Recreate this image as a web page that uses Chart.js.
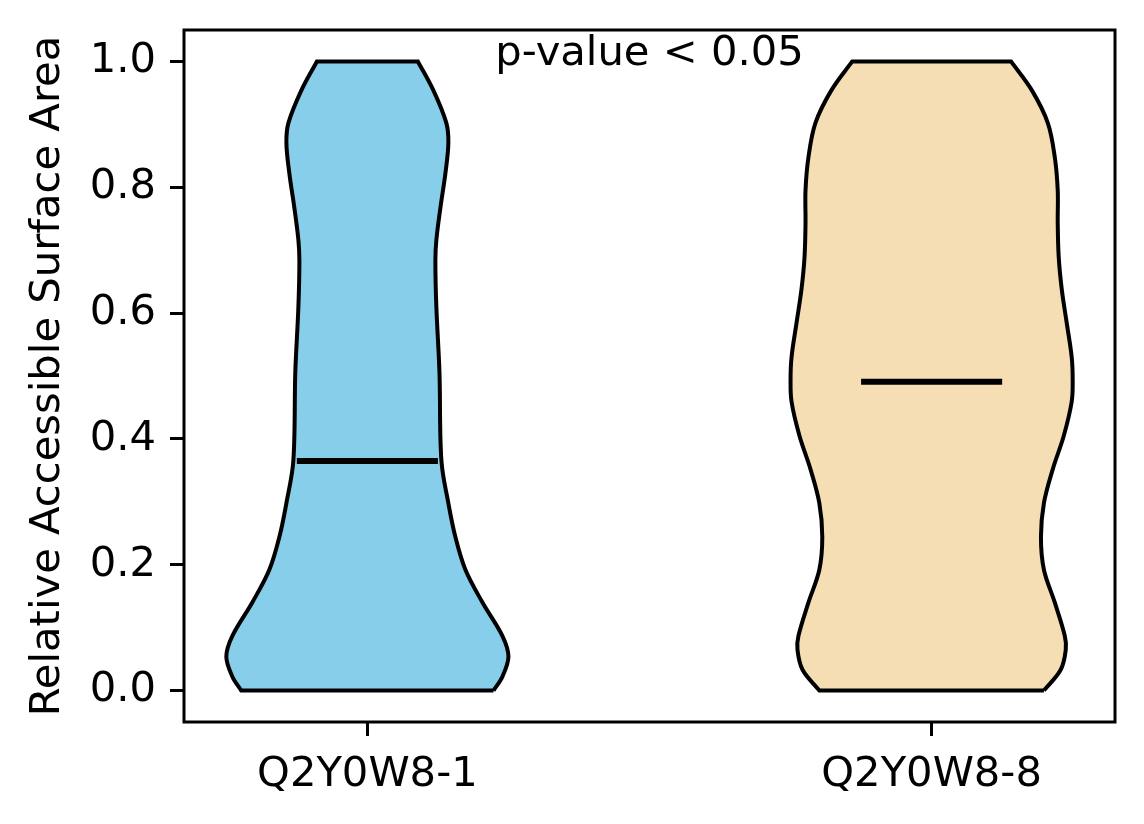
<!DOCTYPE html>
<html>
<head>
<meta charset="utf-8">
<script src="https://cdn.jsdelivr.net/npm/chart.js@4.4.1/dist/chart.umd.min.js"></script>
<style>
  html, body { margin: 0; padding: 0; background: #fff; }
  canvas { display: block; }
</style>
</head>
<body>
<canvas id="violinChart" width="1144" height="824"></canvas>
<script>
// Categories and violin positions
const categories = ["Q2Y0W8-1", "Q2Y0W8-8"];
const positions = [1, 2];
const colors = ["#87CEEB", "#F5DEB3"];

// Violin profiles: levels (y) and relative half-width (1 = widest)
const levels1 = [0.0, 0.022, 0.054, 0.087, 0.140, 0.192, 0.244, 0.298, 0.365, 0.506, 0.610, 0.684, 0.716, 0.768, 0.822, 0.870, 0.902, 0.954, 1.0];
const widths1 = [0.894, 0.957, 1.0, 0.957, 0.816, 0.695, 0.624, 0.574, 0.525, 0.511, 0.489, 0.482, 0.489, 0.518, 0.553, 0.574, 0.560, 0.468, 0.358];

const levels2 = [0.0, 0.033, 0.065, 0.087, 0.140, 0.192, 0.244, 0.298, 0.352, 0.405, 0.459, 0.494, 0.530, 0.584, 0.637, 0.689, 0.743, 0.795, 0.848, 0.902, 0.954, 1.0];
const widths2 = [0.796, 0.915, 0.951, 0.944, 0.873, 0.796, 0.775, 0.796, 0.859, 0.937, 0.993, 1.0, 0.993, 0.958, 0.923, 0.901, 0.894, 0.894, 0.873, 0.824, 0.711, 0.563];

const medians = [0.365, 0.491];
const yTicks = [0.0, 0.2, 0.4, 0.6, 0.8, 1.0];
const annotation = "p-value < 0.05";

const violinWidth = 0.5;
const fontPx = 41.7;

// closed outline: right side upward, then left side downward (corners doubled to keep them sharp)
function violinPoints(pos, levels, widths) {
  const half = violinWidth / 2;
  const right = levels.map((v, i) => ({ x: pos + widths[i] * half, y: v }));
  const left = levels.map((v, i) => ({ x: pos - widths[i] * half, y: v })).reverse();
  const pts = [];
  right.forEach(p => pts.push(p));
  pts.push(right[right.length - 1]);
  left.forEach((p, i) => {
    pts.push(p);
    if (i === 0 || i === left.length - 1) pts.push(p);
  });
  pts.push(right[0]);
  return pts;
}

function medianLine(pos, m) {
  const q = violinWidth / 4;
  return [{ x: pos - q, y: m }, { x: pos + q, y: m }];
}

const profiles = [[levels1, widths1], [levels2, widths2]];
const datasets = [];
profiles.forEach((p, i) => {
  datasets.push({
    data: violinPoints(positions[i], p[0], p[1]),
    backgroundColor: colors[i],
    borderColor: "#000",
    borderWidth: 4,
    fill: "shape",
    tension: 0.35,
    pointRadius: 0,
    order: 2
  });
});
medians.forEach((m, i) => {
  datasets.push({
    data: medianLine(positions[i], m),
    borderColor: "#000",
    borderWidth: 6,
    borderCapStyle: "butt",
    fill: false,
    pointRadius: 0,
    order: 1
  });
});

// Frame and p-value text
const framePlugin = {
  id: "frame",
  afterDatasetsDraw(chart) {
    const { ctx, chartArea: a } = chart;
    ctx.save();
    ctx.strokeStyle = "#000";
    ctx.lineWidth = 3;
    ctx.strokeRect(a.left, a.top, a.right - a.left, a.bottom - a.top);
    ctx.fillStyle = "#000";
    ctx.font = fontPx + "px 'DejaVu Sans'";
    ctx.textAlign = "center";
    ctx.textBaseline = "alphabetic";
    ctx.fillText(annotation, (a.left + a.right) / 2, a.bottom - 0.95 * (a.bottom - a.top));
    ctx.restore();
  }
};

Chart.defaults.font.family = "'DejaVu Sans'";
Chart.defaults.font.size = fontPx;
Chart.defaults.color = "#000";

const ctx = document.getElementById("violinChart").getContext("2d");
new Chart(ctx, {
  type: "line",
  data: { datasets: datasets },
  options: {
    responsive: false,
    maintainAspectRatio: false,
    devicePixelRatio: 1,
    animation: false,
    events: [],
    layout: { padding: { top: 30, right: 29, left: 0, bottom: 0 } },
    plugins: {
      legend: { display: false },
      tooltip: { enabled: false }
    },
    scales: {
      x: {
        type: "linear",
        min: 0.675,
        max: 2.325,
        afterBuildTicks: s => { s.ticks = positions.map(v => ({ value: v })); },
        afterFit: s => { s.height = 102; s.paddingLeft = 0; s.paddingRight = 0; },
        ticks: {
          padding: 14,
          maxRotation: 0,
          callback: v => categories[positions.indexOf(v)]
        },
        grid: { drawOnChartArea: false, drawTicks: true, tickLength: 14, tickWidth: 3, tickColor: "#000" },
        border: { display: false }
      },
      y: {
        type: "linear",
        min: -0.05,
        max: 1.05,
        afterBuildTicks: s => { s.ticks = yTicks.map(v => ({ value: v })); },
        afterFit: s => { s.width = 184; s.paddingTop = 0; s.paddingBottom = 0; },
        ticks: {
          padding: 14,
          callback: v => v.toFixed(1)
        },
        grid: { drawOnChartArea: false, drawTicks: true, tickLength: 14, tickWidth: 3, tickColor: "#000" },
        border: { display: false },
        title: {
          display: true,
          text: "Relative Accessible Surface Area",
          padding: { top: 23, bottom: 0 }
        }
      }
    }
  },
  plugins: [framePlugin]
});
</script>
</body>
</html>
